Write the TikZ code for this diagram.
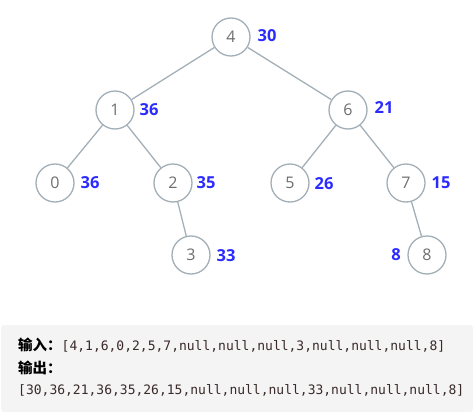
\documentclass[tikz,border=0pt]{standalone}
\usepackage{fontspec}
\setmainfont{Open Sans}
\setmonofont{DejaVu Sans Mono}
\newfontfamily\cjk{Noto Sans CJK SC}
\definecolor{edgec}{HTML}{A3AFB7}
\definecolor{numc}{HTML}{6E6E6E}
\definecolor{labc}{HTML}{2B2BFF}
\definecolor{boxc}{HTML}{F4F4F4}
\definecolor{txtc}{HTML}{3A2A2A}
\newcommand{\cjklab}[1]{{\cjk\bfseries\color{black}\fontsize{14.5}{14.5}\selectfont #1}}
\begin{document}
\begin{tikzpicture}[x=1pt,y=-1pt,
  tnode/.style={circle,draw=edgec,line width=1.3pt,minimum size=38pt,inner sep=0pt,fill=white,text=numc,font=\fontsize{16}{16}\selectfont},
  tedge/.style={draw=edgec,line width=1.3pt},
  lab/.style={text=labc,font=\fontsize{16.5}{16.5}\selectfont\bfseries,inner sep=0pt},
  mono/.style={anchor=west,inner sep=0pt,text=txtc,font=\fontsize{13}{13}\selectfont\ttfamily}]
\useasboundingbox (0,0) rectangle (474,412);
\node[tnode] (n4) at (231,37) {4};
\node[tnode] (n1) at (115,110) {1};
\node[tnode] (n6) at (348,110) {6};
\node[tnode] (n0) at (55,183) {0};
\node[tnode] (n2) at (173,183) {2};
\node[tnode] (n5) at (290,183) {5};
\node[tnode] (n7) at (406,183) {7};
\node[tnode] (n3) at (191,255) {3};
\node[tnode] (n8) at (427,255) {8};
\draw[tedge] (n4) -- (n1);
\draw[tedge] (n4) -- (n6);
\draw[tedge] (n1) -- (n0);
\draw[tedge] (n1) -- (n2);
\draw[tedge] (n6) -- (n5);
\draw[tedge] (n6) -- (n7);
\draw[tedge] (n2) -- (n3);
\draw[tedge] (n7) -- (n8);
\node[lab] (l4) at (267,36) {30};
\node[lab] (l1) at (149,110) {36};
\node[lab] (l6) at (384,108) {21};
\node[lab] (l0) at (90,183) {36};
\node[lab] (l2) at (206,183) {35};
\node[lab] (l5) at (324,184) {26};
\node[lab] (l7) at (441,183) {15};
\node[lab] (l3) at (226,256) {33};
\node[lab] (l8) at (396,255) {8};
\fill[boxc,rounded corners=3pt] (1,325) rectangle (473,412);
\node[mono] (t1) at (18,345) {\cjklab{输入：}[4,1,6,0,2,5,7,null,null,null,3,null,null,null,8]};
\node[mono] (t2) at (18,368) {\cjklab{输出：}};
\node[mono] (t3) at (18,390) {[30,36,21,36,35,26,15,null,null,null,33,null,null,null,8]};
\end{tikzpicture}
\end{document}
